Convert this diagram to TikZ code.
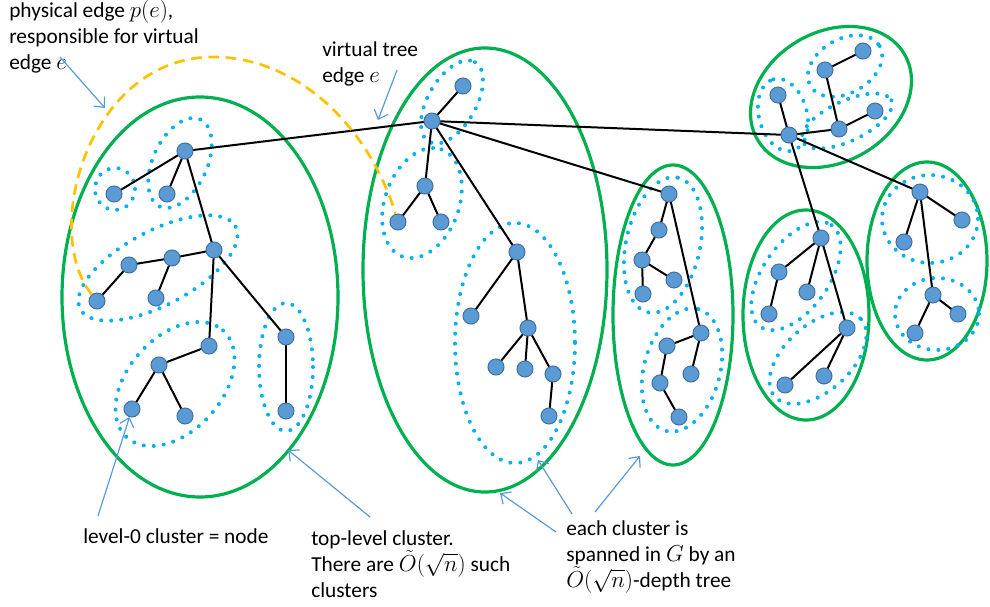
\documentclass[tikz,border=0pt]{standalone}
\usepackage{fontspec}
\setmainfont{Carlito}
\usetikzlibrary{arrows.meta}
\definecolor{cgreen}{HTML}{00B050}
\definecolor{cdot}{HTML}{00B0F0}
\definecolor{cnode}{HTML}{5B9BD5}
\definecolor{cnodeb}{HTML}{41719C}
\definecolor{cyel}{HTML}{FFC000}
\definecolor{carrow}{HTML}{5B9BD5}
\begin{document}
\begin{tikzpicture}[x=0.75pt,y=-0.75pt,
  vtx/.style={circle,fill=cnode,draw=cnodeb,line width=0.75pt,minimum size=12pt,inner sep=0pt},
  topcl/.style={draw=cgreen,line width=2.4pt},
  subcl/.style={draw=cdot,line width=3pt,line cap=round,dash pattern=on 0pt off 7.5pt},
  tedge/.style={draw=black,line width=1.5pt},
  phys/.style={draw=cyel,line width=2pt,dash pattern=on 8pt off 5pt},
  annot/.style={draw=carrow,line width=0.9pt,-{Straight Barb[length=6pt,width=11pt]}},
  lbl/.style={font=\fontsize{16}{19.5}\selectfont,align=left,inner sep=0pt,anchor=north west}
]
\useasboundingbox (0,0) rectangle (990,607);

% top-level clusters
\draw[topcl] (200,297) ellipse [x radius=138, y radius=200];
\draw[topcl] (485,270) ellipse [x radius=122, y radius=222];
\draw[topcl] (673,315) ellipse [x radius=60, y radius=150];
\draw[topcl, rotate around={30:(831,97)}] (831,97) ellipse [x radius=85, y radius=65];
\draw[topcl] (806,315) ellipse [x radius=63, y radius=105];
\draw[topcl] (927,261) ellipse [x radius=60, y radius=99];

% sub clusters
\draw[subcl] (115,189) ellipse [x radius=20, y radius=21];
\draw[subcl, rotate around={65:(180,163)}] (180,163) ellipse [x radius=48, y radius=27];
\draw[subcl, rotate around={28:(158,268)}] (158,268) ellipse [x radius=88, y radius=37];
\draw[subcl, rotate around={48:(175,384)}] (175,384) ellipse [x radius=72, y radius=47];
\draw[subcl] (286,367) ellipse [x radius=27, y radius=64];

\draw[subcl, rotate around={60:(452,102)}] (452,102) ellipse [x radius=46, y radius=24];
\draw[subcl, rotate around={70:(422,203)}] (422,203) ellipse [x radius=57, y radius=37];
\draw[subcl] (515,343) ellipse [x radius=60, y radius=120];

\draw[subcl, rotate around={77.5:(663,245)}] (663,245) ellipse [x radius=69, y radius=37];
\draw[subcl, rotate around={75:(682,370)}] (682,370) ellipse [x radius=63, y radius=38];

\draw[subcl, rotate around={105:(783,115)}] (783,115) ellipse [x radius=37, y radius=24];
\draw[subcl, rotate around={30:(845,66)}] (845,66) ellipse [x radius=40, y radius=27];
\draw[subcl, rotate around={25:(847,121)}] (847,121) ellipse [x radius=49, y radius=20];

\draw[subcl, rotate around={55:(796,276)}] (796,276) ellipse [x radius=62, y radius=33];
\draw[subcl, rotate around={42:(818,358)}] (818,358) ellipse [x radius=58, y radius=33];

\draw[subcl] (930,219) ellipse [x radius=48, y radius=44];
\draw[subcl] (937,314) ellipse [x radius=42, y radius=36];

% vertices
\foreach \n/\p in {A1/{185,151},A2/{114,194},A3/{167,194},A4/{214,250},A5/{172,258},A6/{129,265},A7/{97,301},A8/{156,298},A9/{209,346},A10/{159,365},A11/{132,409},A12/{185,416},A13/{286,337},A14/{286,411},
B1/{463,86},B2/{432,121},B3/{425,186},B4/{398,222},B5/{441,222},B6/{517,252},B7/{471,316},B8/{528,328},B9/{496,367},B10/{525,369},B11/{553,374},B12/{549,416},
D1/{669,194},D2/{659,230},D3/{642,260},D4/{674,280},D5/{643,294},D6/{701,333},D7/{667,346},D8/{691,374},D9/{660,383},D10/{679,417},
E1/{789,135},E2/{778,95},E3/{825,70},E4/{863,51},E5/{839,129},E6/{875,111},
F1/{821,238},F2/{779,272},F3/{807,292},F4/{769,314},F5/{847,328},F6/{785,385},F7/{824,376},
G1/{920,192},G2/{962,220},G3/{904,242},G4/{933,295},G5/{958,314},G6/{915,333}}
  \coordinate (\n) at (\p);

% tree edges
\foreach \a/\b in {A1/A2,A1/A3,A1/A4,A4/A5,A5/A6,A6/A7,A5/A8,A4/A9,A9/A10,A10/A11,A10/A12,A4/A13,A13/A14,
B1/B2,B2/B3,B3/B4,B3/B5,B2/B6,B6/B7,B6/B8,B8/B9,B8/B10,B8/B11,B11/B12,
D1/D2,D2/D3,D3/D4,D3/D5,D1/D6,D6/D7,D6/D8,D7/D9,D9/D10,
E1/E2,E1/E5,E5/E3,E3/E4,E5/E6,
F1/F2,F2/F4,F1/F3,F1/F5,F5/F6,F5/F7,
G1/G2,G1/G3,G1/G4,G4/G5,G4/G6,
A1/B2,B2/E1,B2/D1,E1/F1,E1/G1}
  \draw[tedge] (\a) -- (\b);

\foreach \n in {A1,A2,A3,A4,A5,A6,A7,A8,A9,A10,A11,A12,A13,A14,B1,B2,B3,B4,B5,B6,B7,B8,B9,B10,B11,B12,D1,D2,D3,D4,D5,D6,D7,D8,D9,D10,E1,E2,E3,E4,E5,E6,F1,F2,F3,F4,F5,F6,F7,G1,G2,G3,G4,G5,G6}
  \node[vtx] (v\n) at (\n) {};

% physical edge
\coordinate (ytop) at (213,57);
\draw[phys] (vA7) .. controls (40,230) and (90,57) .. (ytop) .. controls (300,57) and (370,130) .. (vB4);

% labels
\node[lbl] (t1) at (9,0) {physical edge $p(e)$,\\responsible for virtual\\edge $e$};
\node[lbl] (t2) at (322,41) {virtual tree\\edge $e$};
\node[lbl] (t3) at (83,528) {level-0 cluster = node};
\node[lbl] (t4) at (311,530) {top-level cluster.\\There are $\tilde{O}(\sqrt{n})$ such\\clusters};
\node[lbl] (t5) at (566,520) {each cluster is\\spanned in $G$ by an\\$\tilde{O}(\sqrt{n})$-depth tree};

% annotation arrows
\coordinate (s1) at (60,57);   \coordinate (e1) at (105,108);
\coordinate (s2) at (397,70);  \coordinate (e2) at (378,120);
\coordinate (s3) at (98,516);
\coordinate (s4) at (370,517); \coordinate (e4) at (288,450);
\coordinate (s5a) at (556,532); \coordinate (e5a) at (500,493);
\coordinate (s5b) at (572,514); \coordinate (e5b) at (538,460);
\coordinate (s5c) at (595,512); \coordinate (e5c) at (640,456);
\draw[annot] (s1) -- (e1);
\draw[annot] (s2) -- (e2);
\draw[annot] (s3) -- (vA11);
\draw[annot] (s4) -- (e4);
\draw[annot] (s5a) -- (e5a);
\draw[annot] (s5b) -- (e5b);
\draw[annot] (s5c) -- (e5c);
\end{tikzpicture}
\end{document}
